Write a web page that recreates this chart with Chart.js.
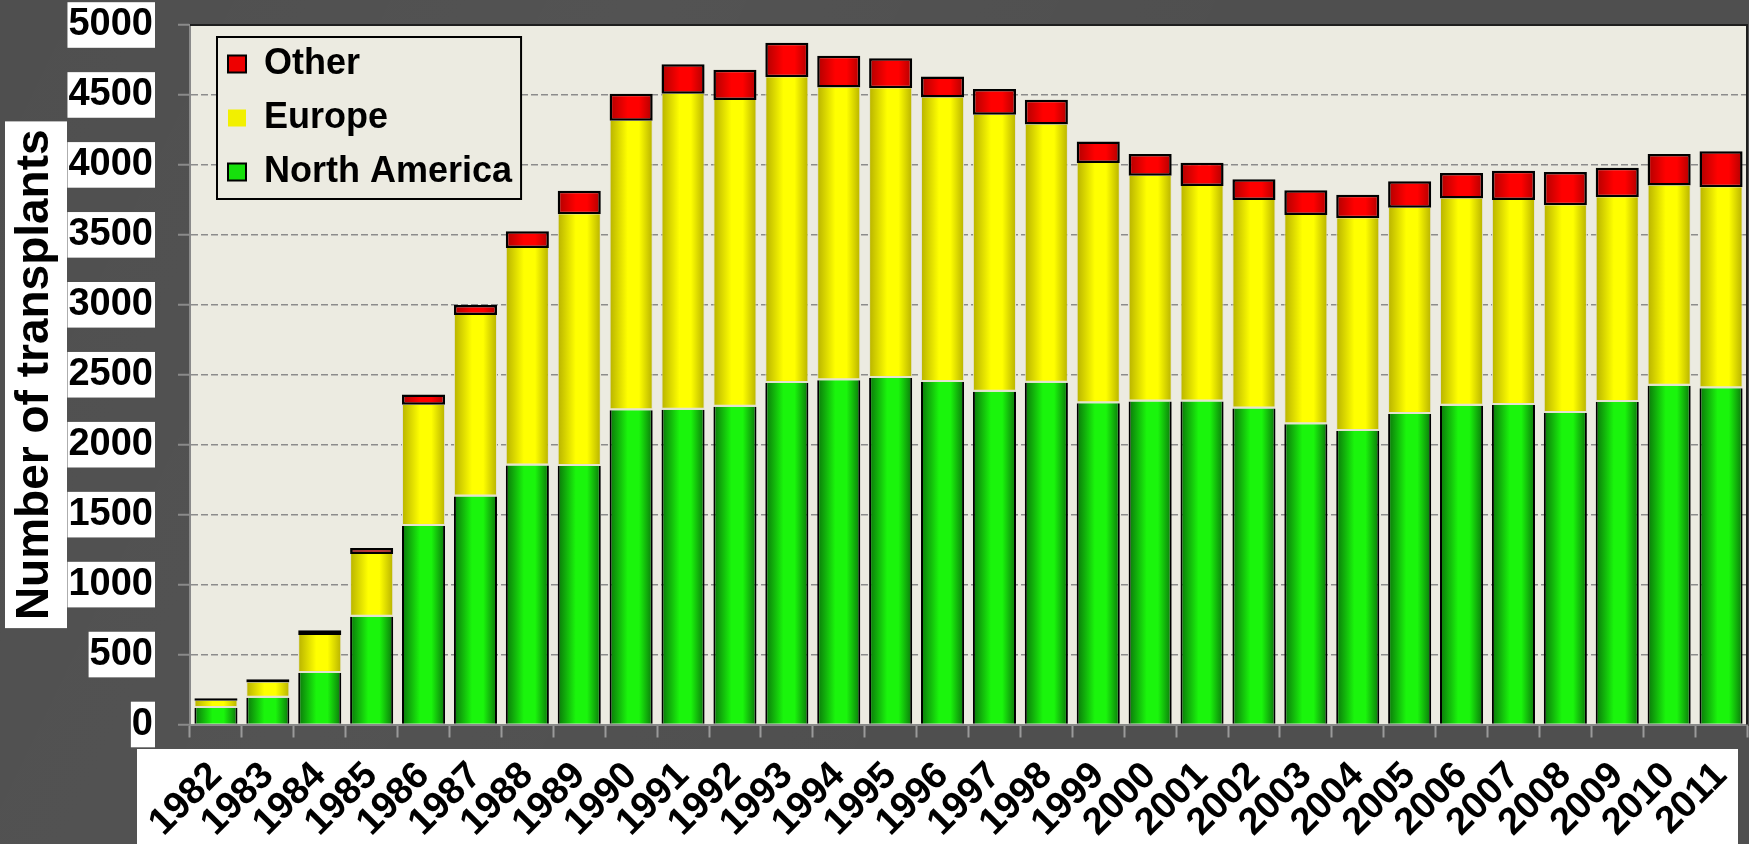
<!DOCTYPE html>
<html>
<head>
<meta charset="utf-8">
<title>Number of transplants</title>
<script src="https://cdn.jsdelivr.net/npm/chart.js"></script>
<style>
  html, body { margin: 0; padding: 0; background: #4f4f4f; overflow: hidden; }
  #wrap { width: 1749px; height: 844px; }
</style>
</head>
<body>
<div id="wrap"><canvas id="c" width="1749" height="844"></canvas></div>
<script>
// ---- data ----
const years = ['1982','1983','1984','1985','1986','1987','1988','1989','1990','1991',
               '1992','1993','1994','1995','1996','1997','1998','1999','2000','2001',
               '2002','2003','2004','2005','2006','2007','2008','2009','2010','2011'];
const northAmerica = [118, 192, 368, 771, 1419, 1629, 1852, 1848, 2246, 2250,
                      2272, 2441, 2460, 2477, 2448, 2379, 2443, 2296, 2308, 2308,
                      2258, 2146, 2098, 2219, 2279, 2284, 2227, 2305, 2422, 2403];
const europe = [52, 109, 272, 448, 867, 1298, 1554, 1799, 2070, 2259,
                2192, 2185, 2094, 2070, 2033, 1980, 1845, 1718, 1615, 1541,
                1491, 1496, 1520, 1475, 1480, 1465, 1484, 1463, 1430, 1437];
const other = [17, 22, 33, 43, 72, 72, 119, 169, 193, 210,
               217, 248, 227, 215, 150, 184, 178, 154, 155, 167,
               148, 176, 169, 189, 183, 210, 238, 212, 226, 257];
const yTicks = [0, 500, 1000, 1500, 2000, 2500, 3000, 3500, 4000, 4500, 5000];
const yTitle = 'Number of transplants';

// ---- styling ----
const FONT = "'Liberation Sans', Arial, sans-serif";
const PAGE_BG = '#4f4f4f';
const PLOT_BG = '#ecebe1';
const BAR_PCT = 0.83;
const TITLE_SIZE = 46;

// Cylinder-like horizontal shading across each bar
function shade(dark, bright) {
  return (c) => {
    const chart = c.chart;
    const xs = chart.scales && chart.scales.x;
    if (!chart.chartArea || !xs || c.type !== 'data') return bright;
    const step = xs.width / years.length;
    const cx = xs.getPixelForValue(c.dataIndex);
    const half = step * BAR_PCT / 2;
    const g = chart.ctx.createLinearGradient(cx - half, 0, cx + half, 0);
    g.addColorStop(0, dark);
    g.addColorStop(0.42, bright);
    g.addColorStop(0.68, bright);
    g.addColorStop(1, dark);
    return g;
  };
}

// Page background, plot background, label bands, legend frame
const backdrop = {
  id: 'backdrop',
  beforeDraw(chart) {
    const { ctx, chartArea: a, width, height } = chart;
    const xs = chart.scales.x, ys = chart.scales.y;
    ctx.save();
    ctx.fillStyle = PAGE_BG;
    ctx.fillRect(0, 0, width, height);
    // faint diagonal sheen on the page
    const sheen = ctx.createLinearGradient(0, 0, width, height);
    sheen.addColorStop(0, 'rgba(255,255,255,0)');
    sheen.addColorStop(0.3, 'rgba(255,255,255,0.025)');
    sheen.addColorStop(0.6, 'rgba(255,255,255,0)');
    ctx.fillStyle = sheen;
    ctx.fillRect(0, 0, width, height);
    // plot area
    ctx.fillStyle = PLOT_BG;
    ctx.fillRect(a.left, a.top, a.right - a.left, a.bottom - a.top);
    // white band behind the year labels
    ctx.fillStyle = '#ffffff';
    ctx.fillRect(a.left - 53, xs.top + 24.5, (a.right - 9) - (a.left - 53), height - (xs.top + 24.5));
    // white box behind the axis title
    ctx.font = 'bold ' + TITLE_SIZE + 'px ' + FONT;
    const tw = ctx.measureText(yTitle).width;
    const cy = (ys.top + ys.bottom) / 2;
    ctx.fillRect(5, cy - tw / 2 - 8, 62, tw + 16);
    ctx.restore();
  },
  afterLayout(chart) {
    const lg = chart.legend;
    if (!lg) return;
    lg.left = 210; lg.top = 28;
    lg.right = lg.left + lg.width;
    lg.bottom = lg.top + lg.height;
  },
  beforeDatasetsDraw(chart) {
    const { ctx, chartArea: a } = chart;
    const lg = chart.legend;
    ctx.save();
    // legend frame
    const x0 = lg.left + 7, y0 = lg.top + 9;
    const x1 = lg.left + lg.width - 1, y1 = lg.top + 171;
    ctx.fillStyle = PLOT_BG;
    ctx.fillRect(x0, y0, x1 - x0, y1 - y0);
    ctx.strokeStyle = '#000';
    ctx.lineWidth = 2;
    ctx.strokeRect(x0, y0, x1 - x0, y1 - y0);
    // top and right frame of the plot
    ctx.strokeStyle = '#1e1e1e';
    ctx.lineWidth = 2;
    ctx.beginPath();
    ctx.moveTo(a.left, a.top);
    ctx.lineTo(a.right, a.top);
    ctx.lineTo(a.right, a.bottom);
    ctx.stroke();
    ctx.restore();
    lg.draw();
  }
};

const chart = new Chart(document.getElementById('c'), {
  type: 'bar',
  data: {
    labels: years,
    datasets: [
      {
        label: 'North America',
        data: northAmerica,
        backgroundColor: shade('#0a760a', '#1af50c'),
        borderColor: '#000000',
        borderWidth: { top: 0, left: 2, right: 2, bottom: 0 },
        borderSkipped: false,
        legendFill: '#16e00c', legendStroke: '#000000', legendLine: 2
      },
      {
        label: 'Europe',
        data: europe,
        backgroundColor: shade('#b8b200', '#ffff00'),
        borderColor: '#e4e2d0',
        borderWidth: { top: 0, left: 1, right: 1, bottom: 2 },
        borderSkipped: false,
        legendFill: '#f2f000', legendStroke: '#f2f000', legendLine: 0
      },
      {
        label: 'Other',
        data: other,
        backgroundColor: shade('#b00000', '#ff0000'),
        borderColor: '#000000',
        borderWidth: 2.5,
        borderSkipped: false,
        legendFill: '#ee0000', legendStroke: '#000000', legendLine: 2
      }
    ]
  },
  options: {
    responsive: false,
    devicePixelRatio: 1,
    animation: false,
    datasets: { bar: { barPercentage: BAR_PCT, categoryPercentage: 1 } },
    layout: { padding: { top: 25, right: 2, bottom: 0, left: 0 } },
    plugins: {
      tooltip: { enabled: false },
      legend: {
        position: 'chartArea',
        align: 'start',
        reverse: true,
        labels: {
          color: '#000',
          font: { family: FONT, size: 36, weight: 'bold' },
          boxWidth: 18,
          boxHeight: 17,
          padding: 18,
          generateLabels(ch) {
            return ch.data.datasets.map((ds, i) => ({
              text: ds.label,
              fillStyle: ds.legendFill,
              strokeStyle: ds.legendStroke,
              lineWidth: ds.legendLine,
              fontColor: '#000',
              hidden: false,
              datasetIndex: i
            }));
          }
        }
      }
    },
    scales: {
      x: {
        stacked: true,
        afterFit(s) { s.height = 119.5; s.paddingLeft = 0; s.paddingRight = 0; },
        grid: {
          offset: true,
          drawOnChartArea: false,
          drawTicks: true,
          tickLength: 13,
          tickColor: '#9a9a9a',
          tickWidth: 2
        },
        border: { display: true, color: '#8a8a8a', width: 2 },
        ticks: {
          color: '#000',
          font: { family: FONT, size: 38, weight: 'bold' },
          minRotation: 45,
          maxRotation: 45,
          autoSkip: false,
          padding: 16,
          labelOffset: 0
        }
      },
      y: {
        stacked: true,
        min: 0,
        max: 5000,
        afterFit(s) { s.width = 190; s.paddingTop = 0; s.paddingBottom = 0; },
        afterBuildTicks(s) { s.ticks = yTicks.map(v => ({ value: v })); },
        grid: {
          color: '#8c8c8c',
          lineWidth: 1.5,
          drawTicks: true,
          tickLength: 12,
          tickColor: '#8a8a8a',
          tickWidth: 2,
          tickBorderDash: [],
          z: -1
        },
        border: { display: true, color: '#8a8a8a', width: 2, dash: [7, 3] },
        ticks: {
          color: '#000',
          font: { family: FONT, size: 38, weight: 'bold' },
          padding: 25,
          showLabelBackdrop: true,
          backdropColor: '#ffffff',
          backdropPadding: { top: 0, bottom: 0, left: 1, right: 2 },
          callback: (v) => String(v)
        },
        title: {
          display: true,
          text: yTitle,
          color: '#000',
          font: { family: FONT, size: TITLE_SIZE, weight: 'bold' },
          padding: { top: 8, bottom: 0 }
        }
      }
    }
  },
  plugins: [backdrop]
});
</script>
</body>
</html>
